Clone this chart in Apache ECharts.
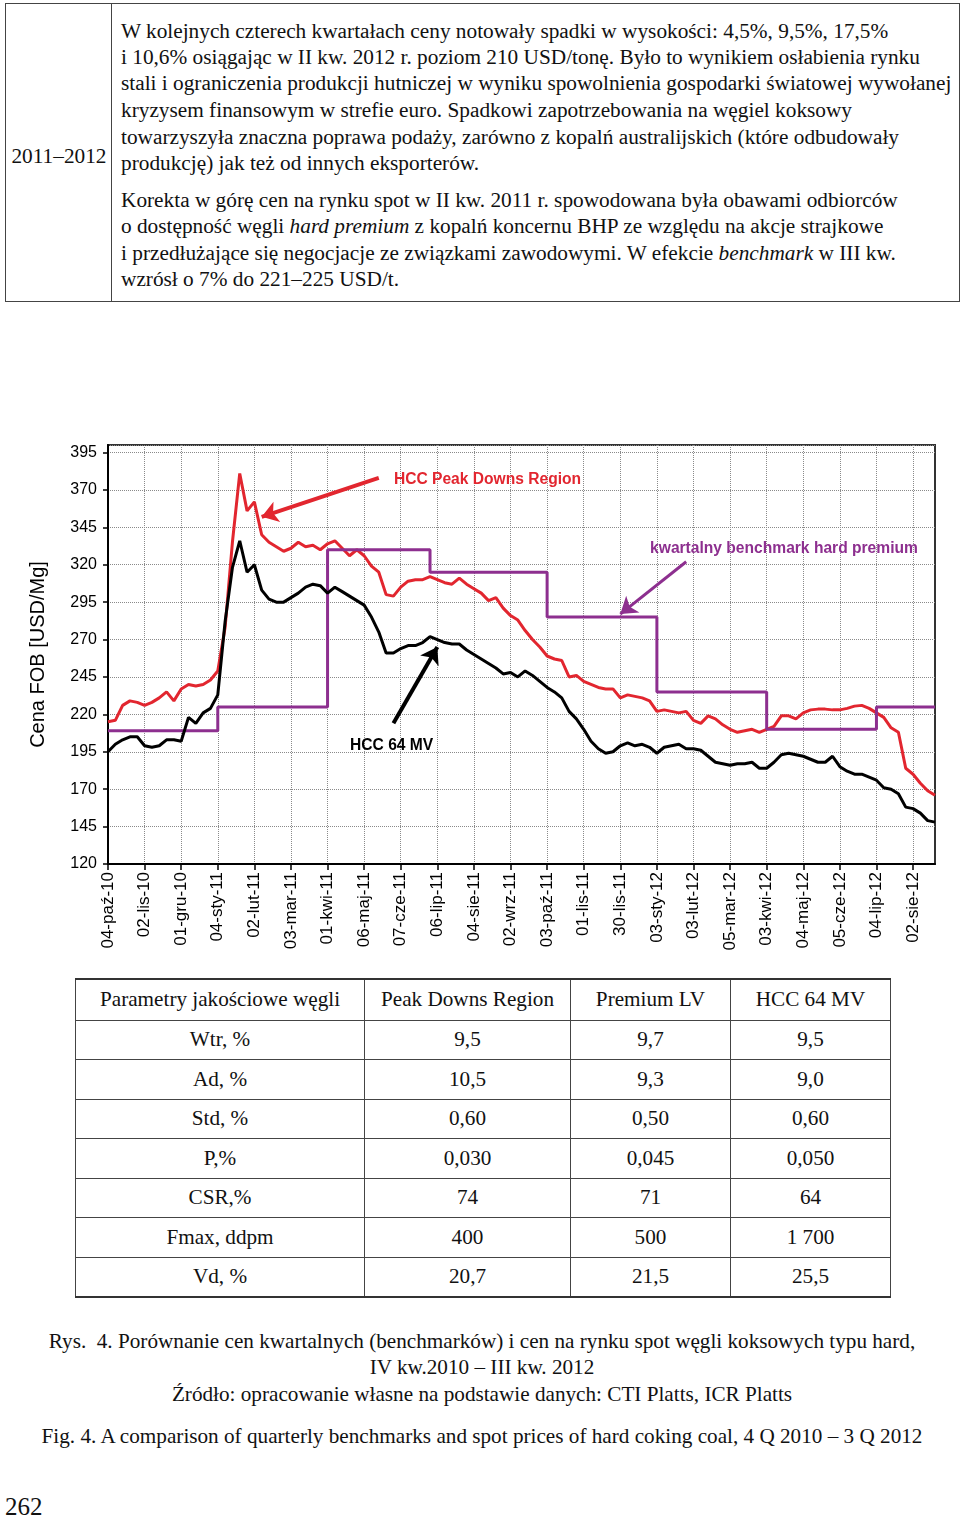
<!DOCTYPE html>
<html>
<head>
<meta charset="utf-8">
<script src="https://cdn.jsdelivr.net/npm/echarts@6/dist/echarts.min.js"></script>
<style>
  html, body { margin:0; padding:0; background:#fff; }
  body { width:960px; height:1522px; position:relative; font-family:'Liberation Serif','Times New Roman',serif; color:#111; overflow:hidden; }
  #topbox { position:absolute; left:5px; top:3px; width:955px; height:299px; border:1.5px solid #444; box-sizing:border-box; }
  #topdiv { position:absolute; left:105px; top:0; width:0; height:100%; border-left:1.5px solid #444; }
  #yearcell { position:absolute; left:0; top:139px; width:106px; text-align:center; font-size:21.3px; line-height:26px; }
  .ln { position:absolute; left:115px; white-space:nowrap; font-size:21.3px; line-height:26px; }
  #chart { position:absolute; left:0; top:430px; width:960px; height:530px; }
  #params { position:absolute; left:75px; top:978px; border-collapse:collapse; font-size:21.2px; }
  #params td { border:1.5px solid #444; text-align:center; padding:0; height:38.5px; }
  #params tr:first-child td { border-top:2px solid #333; height:39.5px; }
  #params tr:last-child td { border-bottom:2px solid #333; }
  .cap { position:absolute; left:0; width:964px; text-align:center; font-size:21.2px; white-space:nowrap; line-height:26px; }
  #page { position:absolute; left:5px; top:1493px; font-size:25px; }
</style>
</head>
<body>
<div id="topbox">
  <div id="topdiv"></div>
  <div id="yearcell">2011–2012</div>
  <div class="ln" style="top:14px">W kolejnych czterech kwartałach ceny notowały spadki w wysokości: 4,5%, 9,5%, 17,5%</div>
  <div class="ln" style="top:40px">i 10,6% osiągając w II kw. 2012 r. poziom 210 USD/tonę. Było to wynikiem osłabienia rynku</div>
  <div class="ln" style="top:66px">stali i ograniczenia produkcji hutniczej w wyniku spowolnienia gospodarki światowej wywołanej</div>
  <div class="ln" style="top:93px">kryzysem finansowym w strefie euro. Spadkowi zapotrzebowania na węgiel koksowy</div>
  <div class="ln" style="top:120px">towarzyszyła znaczna poprawa podaży, zarówno z kopalń australijskich (które odbudowały</div>
  <div class="ln" style="top:146px">produkcję) jak też od innych eksporterów.</div>
  <div class="ln" style="top:183px">Korekta w górę cen na rynku spot w II kw. 2011 r. spowodowana była obawami odbiorców</div>
  <div class="ln" style="top:209px">o dostępność węgli <i>hard premium</i> z kopalń koncernu BHP ze względu na akcje strajkowe</div>
  <div class="ln" style="top:236px">i przedłużające się negocjacje ze związkami zawodowymi. W efekcie <i>benchmark</i> w III kw.</div>
  <div class="ln" style="top:262px">wzrósł o 7% do 221–225 USD/t.</div>
</div>

<div id="chart"></div>

<table id="params">
  <colgroup><col style="width:289px"><col style="width:206px"><col style="width:160px"><col style="width:160px"></colgroup>
  <tbody id="paramsBody"></tbody>
</table>

<div class="cap" style="top:1328px">Rys.&nbsp; 4. Porównanie cen kwartalnych (benchmarków) i cen na rynku spot węgli koksowych typu hard,</div>
<div class="cap" style="top:1354px">IV kw.2010 – III kw. 2012</div>
<div class="cap" style="top:1381px">Źródło: opracowanie własne na podstawie danych: CTI Platts, ICR Platts</div>
<div class="cap" style="top:1423px">Fig. 4. A comparison of quarterly benchmarks and spot prices of hard coking coal, 4 Q 2010 – 3 Q 2012</div>
<div id="page">262</div>

<script>
// ---------------- DATA ----------------
// x-axis tick labels (one every 5 weekly samples)
const tickLabels = ['04-paź-10','02-lis-10','01-gru-10','04-sty-11','02-lut-11','03-mar-11','01-kwi-11',
  '06-maj-11','07-cze-11','06-lip-11','04-sie-11','02-wrz-11','03-paź-11','01-lis-11','30-lis-11',
  '03-sty-12','03-lut-12','05-mar-12','03-kwi-12','04-maj-12','05-cze-12','04-lip-12','02-sie-12'];

// HCC Peak Downs Region spot price (weekly samples, USD/t)
const peakDowns = [215,216,226,229,228,226,228,231,235,229,
  237,240,239,240,243,249,278,335,381,356,
  362,340,335,332,329,331,335,332,333,330,
  334,336,331,326,330,326,319,315,300,299,
  305,309,310,310,312,310,308,307,311,307,
  304,301,296,298,291,286,283,276,270,265,
  259,257,256,245,246,242,240,238,237,237,
  231,233,232,231,229,222,223,222,221,222,
  216,214,219,217,213,210,208,209,210,208,
  210,212,219,219,217,221,223,223.5,223.5,223,
  223,224,225.5,226,224,221,218,211,208,184,
  180,174,169,166];

// HCC 64 MV spot price (weekly samples, USD/t)
const hcc64 = [195,200,203,205,205,199,198,199,203,203,
  202,218,214,221,224,233,282,318,336,315,
  320,303,297,295,295,298,301,305,307,306,
  301,305,302,299,296,293,285,275,261,261,
  264,266,266,268,272,270,268,267,267,263,
  260,257,254,251,247,248,245,249,246,242,
  238,235,231,222,217,210,202,197,194,195,
  199,201,199,200,198,194,198,199,200,197,
  197,196,192,188,187,186,187,187,188,184,
  184,188,193,194,193,192,190,188,188,192,
  185,182,180,180,178,176,171,170,167,158,
  157,154,149,148];

// Quarterly hard premium benchmark (USD/t) and the weekly sample where each quarter starts
const benchmarkValues = [209, 225, 330, 315, 285, 235, 210, 225];
const quarterStartWeek = [0, 15, 30, 44, 60, 75, 90, 105];

// Quality parameters table
const paramHeader = ['Parametry jakościowe węgli','Peak Downs Region','Premium LV','HCC 64 MV'];
const paramNames = ['Wtr, %','Ad, %','Std, %','P,%','CSR,%','Fmax, ddpm','Vd, %'];
const paramPeakDowns = ['9,5','10,5','0,60','0,030','74','400','20,7'];
const paramPremiumLV = ['9,7','9,3','0,50','0,045','71','500','21,5'];
const paramHcc64 = ['9,5','9,0','0,60','0,050','64','1 700','25,5'];

// ---------------- TABLE ----------------
(function(){
  const body = document.getElementById('paramsBody');
  const rows = [paramHeader].concat(paramNames.map((n,i)=>[n,paramPeakDowns[i],paramPremiumLV[i],paramHcc64[i]]));
  rows.forEach(r=>{
    const tr = document.createElement('tr');
    r.forEach(c=>{ const td=document.createElement('td'); td.textContent=c; tr.appendChild(td); });
    body.appendChild(tr);
  });
})();

// ---------------- CHART ----------------
const weeks = peakDowns.map((_, i) => String(i));
const benchmark = weeks.map((_, i) => {
  let v = benchmarkValues[0];
  for (let q = 0; q < quarterStartWeek.length; q++) if (i >= quarterStartWeek[q]) v = benchmarkValues[q];
  return v;
});

const RED = '#e2262f', PURPLE = '#8d2f8f', BLACK = '#000';
const annFont = "'Liberation Sans',Arial,sans-serif";
const annSize = 15.6;

const chart = echarts.init(document.getElementById('chart'), null, {renderer:'canvas'});
chart.setOption({
  animation:false,
  backgroundColor:'#fff',
  grid:{left:108, right:25, top:15, bottom:96, show:true, borderColor:'#333', borderWidth:2},
  xAxis:{
    type:'category', data:weeks, boundaryGap:false,
    axisLine:{lineStyle:{color:'#000', width:2}},
    axisTick:{show:true, interval:4, length:6, lineStyle:{color:'#000', width:1.5}},
    axisLabel:{interval:4, rotate:90, margin:8, fontSize:17, color:'#000', fontFamily:'Liberation Sans, Arial, sans-serif',
      formatter:(v, i) => tickLabels[Math.round(i/5)] || ''},
    splitLine:{show:true, interval:4, lineStyle:{type:'dotted', color:'#8a8a8a', width:1}}
  },
  yAxis:{
    type:'value', min:120, max:400, interval:25,
    name:'Cena FOB [USD/Mg]', nameLocation:'middle', nameGap:60,
    nameTextStyle:{fontSize:20, color:'#000', fontFamily:'Liberation Sans, Arial, sans-serif'},
    axisLine:{show:true, lineStyle:{color:'#000', width:2}},
    axisTick:{show:true, length:5, lineStyle:{color:'#000', width:1.5}},
    axisLabel:{showMaxLabel:false, fontSize:16, margin:11, color:'#000', fontFamily:'Liberation Sans, Arial, sans-serif'},
    splitLine:{show:true, lineStyle:{type:'dotted', color:'#8a8a8a', width:1}}
  },
  series:[
    {
      name:'HCC Peak Downs Region', type:'line', data:peakDowns, symbol:'none', silent:true,
      lineStyle:{color:RED, width:3}, z:3,
      markLine:{silent:true, symbol:['none','arrow'], symbolSize:16, label:{show:false},
        lineStyle:{color:RED, width:4, type:'solid'},
        data:[[{coord:[37.2,378]},{coord:[21.2,352]}]]},
      markPoint:{silent:true, data:[{coord:[38.9,377], symbol:'circle', symbolSize:1, itemStyle:{color:'rgba(0,0,0,0)'},
        label:{show:true, position:'right', distance:0, formatter:'HCC Peak Downs Region', color:RED, fontWeight:'bold', fontSize:annSize, fontFamily:annFont}}]}
    },
    {
      name:'kwartalny benchmark hard premium', type:'line', data:benchmark, step:'end', symbol:'none', silent:true,
      lineStyle:{color:PURPLE, width:3}, z:4,
      markLine:{silent:true, symbol:['none','arrow'], symbolSize:16, label:{show:false},
        lineStyle:{color:PURPLE, width:3, type:'solid'},
        data:[[{coord:[79.1,322]},{coord:[69.7,287]}]]},
      markPoint:{silent:true, data:[{coord:[73.6,331], symbol:'circle', symbolSize:1, itemStyle:{color:'rgba(0,0,0,0)'},
        label:{show:true, position:'right', distance:0, formatter:'kwartalny benchmark hard premium', color:PURPLE, fontWeight:'bold', fontSize:annSize, fontFamily:annFont}}]}
    },
    {
      name:'HCC 64 MV', type:'line', data:hcc64, symbol:'none', silent:true,
      lineStyle:{color:BLACK, width:3}, z:5,
      markLine:{silent:true, symbol:['none','arrow'], symbolSize:16, label:{show:false},
        lineStyle:{color:BLACK, width:4, type:'solid'},
        data:[[{coord:[38.5,214]},{coord:[45.4,265]}]]},
      markPoint:{silent:true, data:[{coord:[32.9,199], symbol:'circle', symbolSize:1, itemStyle:{color:'rgba(0,0,0,0)'},
        label:{show:true, position:'right', distance:0, formatter:'HCC 64 MV', color:BLACK, fontWeight:'bold', fontSize:annSize, fontFamily:annFont}}]}
    }
  ]
});
</script>
</body>
</html>
